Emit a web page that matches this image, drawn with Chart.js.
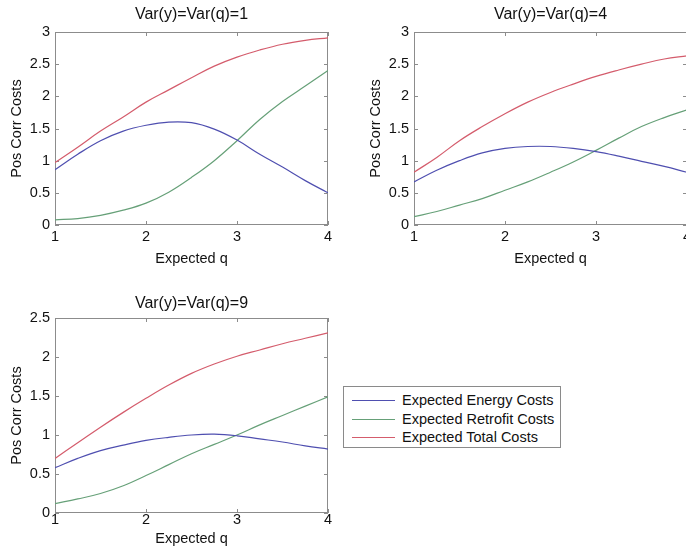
<!DOCTYPE html>
<html><head><meta charset="utf-8">
<script src="https://cdn.jsdelivr.net/npm/chart.js@4.4.1/dist/chart.umd.min.js"></script>
<style>
html,body{margin:0;padding:0;background:#fff;width:686px;height:556px;overflow:hidden;position:relative;}
canvas.pc{position:absolute;}
#legend{position:absolute;left:343px;top:386px;width:216px;height:60px;border:1px solid #8a8a8a;background:#fff;font:14.5px "Liberation Sans",Arial,sans-serif;color:#111;}
.row{position:absolute;left:0;width:216px;height:18px;}
.sw{position:absolute;left:8px;top:9px;width:43px;height:0;border-top:1.3px solid;}
.lt{position:absolute;left:58px;top:0;white-space:nowrap;line-height:18px;}
</style></head><body>
<canvas id="c1" class="pc" style="left:0;top:0;width:383px;height:270px" width="383" height="270"></canvas>
<canvas id="c2" class="pc" style="left:359px;top:0;width:383px;height:270px" width="383" height="270"></canvas>
<canvas id="c3" class="pc" style="left:0;top:286px;width:383px;height:272px" width="383" height="272"></canvas>
<div id="legend"></div>
<script>
// ---- data ----
const expectedQ = [1, 1.25, 1.5, 1.75, 2, 2.25, 2.5, 2.75, 3, 3.25, 3.5, 3.75, 4];
const seriesNames = ['Expected Energy Costs', 'Expected Retrofit Costs', 'Expected Total Costs'];
const panelTitles = ['Var(y)=Var(q)=1', 'Var(y)=Var(q)=4', 'Var(y)=Var(q)=9'];
const xTitle = 'Expected q';
const yTitle = 'Pos Corr Costs';

const energy1   = [0.86, 1.10, 1.31, 1.46, 1.55, 1.60, 1.59, 1.49, 1.32, 1.10, 0.90, 0.69, 0.50];
const retrofit1 = [0.08, 0.10, 0.15, 0.23, 0.34, 0.51, 0.74, 1.00, 1.31, 1.64, 1.92, 2.16, 2.40];
const total1    = [0.97, 1.21, 1.46, 1.68, 1.91, 2.10, 2.29, 2.47, 2.61, 2.72, 2.81, 2.87, 2.91];

const energy4   = [0.67, 0.85, 1.00, 1.12, 1.19, 1.22, 1.22, 1.19, 1.14, 1.07, 0.99, 0.91, 0.82];
const retrofit4 = [0.13, 0.21, 0.31, 0.41, 0.54, 0.67, 0.82, 0.98, 1.16, 1.35, 1.53, 1.67, 1.79];
const total4    = [0.82, 1.05, 1.31, 1.53, 1.73, 1.91, 2.06, 2.19, 2.31, 2.41, 2.50, 2.58, 2.63];

const energy9   = [0.58, 0.70, 0.80, 0.87, 0.93, 0.97, 1.00, 1.01, 0.99, 0.95, 0.91, 0.86, 0.82];
const retrofit9 = [0.12, 0.18, 0.25, 0.35, 0.48, 0.62, 0.76, 0.88, 1.00, 1.13, 1.25, 1.37, 1.49];
const total9    = [0.70, 0.90, 1.10, 1.29, 1.47, 1.64, 1.79, 1.91, 2.01, 2.09, 2.17, 2.24, 2.31];

const yMax = [3, 3, 2.5];
const colors = ['#4f4fb0', '#66a078', '#d45c6c'];

// ---- rendering ----
const FONT = '"Liberation Sans", Arial, sans-serif';
const font = {family: FONT, size: 14.5, weight: 'normal', lineHeight: 1};
const titleFont = {family: FONT, size: 16, weight: 'normal', lineHeight: 1};
const TXT = '#111';

const frameTicks = {
  id: 'frameTicks',
  beforeDatasetsDraw(chart) {
    const {ctx, chartArea: a, scales: {x, y}} = chart;
    ctx.save();
    ctx.strokeStyle = '#8c8c8c';
    ctx.lineWidth = 1;
    ctx.strokeRect(a.left + 0.5, a.top + 0.5, a.right - a.left - 1, a.bottom - a.top - 1);
    ctx.beginPath();
    const L = 4;
    x.ticks.forEach(t => {
      const p = Math.round(x.getPixelForValue(t.value)) + 0.5;
      ctx.moveTo(p, a.bottom); ctx.lineTo(p, a.bottom - L);
      ctx.moveTo(p, a.top); ctx.lineTo(p, a.top + L);
    });
    y.ticks.forEach(t => {
      const p = Math.round(y.getPixelForValue(t.value)) + 0.5;
      ctx.moveTo(a.left, p); ctx.lineTo(a.left + L, p);
      ctx.moveTo(a.right, p); ctx.lineTo(a.right - L, p);
    });
    ctx.stroke();
    ctx.restore();
  }
};

function makeChart(id, title, series, ymax, titlePad, xTickPad, xTitlePad) {
  const datasets = series.map((arr, i) => ({
    label: seriesNames[i],
    data: expectedQ.map((q, j) => ({x: q, y: arr[j]})),
    borderColor: colors[i],
    borderWidth: 1.2,
    pointRadius: 0,
    fill: false,
    tension: 0.4
  }));
  return new Chart(document.getElementById(id), {
    type: 'line',
    data: {datasets},
    plugins: [frameTicks],
    options: {
      responsive: false,
      animation: false,
      devicePixelRatio: 1,
      layout: {padding: {left: 0, right: 55, top: 0, bottom: 0}},
      plugins: {
        legend: {display: false},
        tooltip: {enabled: false},
        title: {display: true, fullSize: false, text: title, font: titleFont, color: TXT, padding: titlePad}
      },
      scales: {
        x: {
          type: 'linear', min: 1, max: 4,
          grid: {display: false, drawTicks: false},
          border: {display: false},
          ticks: {stepSize: 1, padding: xTickPad, font, color: TXT, maxRotation: 0, autoSkip: false,
                  callback: v => String(v)},
          title: {display: true, text: xTitle, font, color: TXT, padding: {top: 0, bottom: xTitlePad}},
          afterFit(s) { s.height = 45; s.paddingLeft = 0; s.paddingRight = 0; }
        },
        y: {
          type: 'linear', min: 0, max: ymax,
          grid: {display: false, drawTicks: false},
          border: {display: false},
          ticks: {stepSize: 0.5, padding: 5, font, color: TXT, callback: v => String(v)},
          title: {display: true, text: yTitle, font, color: TXT, padding: {top: 9.5, bottom: 0}},
          afterFit(s) { s.width = 55; }
        }
      }
    }
  });
}

makeChart('c1', panelTitles[0], [energy1, retrofit1, total1], yMax[0], {top: 7, bottom: 9}, 4.5, 4);
makeChart('c2', panelTitles[1], [energy4, retrofit4, total4], yMax[1], {top: 7, bottom: 9}, 4.5, 4);
makeChart('c3', panelTitles[2], [energy9, retrofit9, total9], yMax[2], {top: 9.3, bottom: 6.7}, 0, 12);

// legend
const lg = document.getElementById('legend');
seriesNames.forEach((n, i) => {
  const r = document.createElement('div');
  r.className = 'row';
  r.style.top = (4 + i * 18.5) + 'px';
  r.innerHTML = '<div class="sw" style="border-top-color:' + colors[i] + '"></div><div class="lt"></div>';
  r.querySelector('.lt').textContent = n;
  lg.appendChild(r);
});
</script>
</body></html>
